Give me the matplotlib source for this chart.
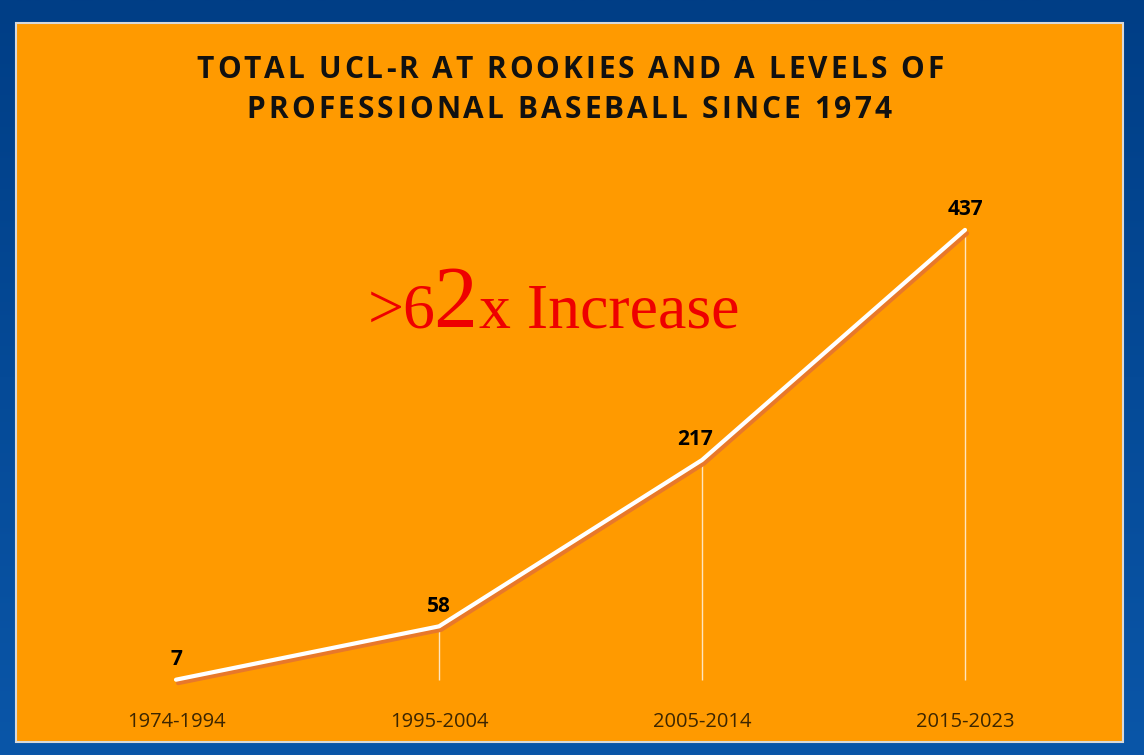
#!/usr/bin/env python3
"""Total UCL-R line chart on an orange slide panel."""

import matplotlib
matplotlib.use("Agg")
import matplotlib.pyplot as plt
import matplotlib.patheffects as pe
import numpy as np
from matplotlib.patches import Rectangle

periods = ["1974-1994", "1995-2004", "2005-2014", "2015-2023"]
ucl_r_totals = [7, 58, 217, 437]
title_lines = ["TOTAL UCL-R AT ROOKIES AND A LEVELS OF", "PROFESSIONAL BASEBALL SINCE 1974"]

W, H = 1144, 755
ORANGE = "#ff9a00"
SHADOW = "#e8782a"

fig = plt.figure(figsize=(W / 100, H / 100), dpi=100)
renderer = fig.canvas.get_renderer()


def fx(px):
    return px / W


def fy(py):
    return 1 - py / H


def tracked_text(cx, cy, s, target_w, **kw):
    """Draw s centred at pixel (cx, cy), letter-spaced to span target_w px."""
    widths = []
    for ch in s:
        t = fig.text(0, 0, ch, **kw)
        widths.append(t.get_window_extent(renderer).width)
        t.remove()
    track = (target_w - sum(widths)) / (len(s) - 1)
    x = cx - target_w / 2
    for ch, w in zip(s, widths):
        fig.text(fx(x), fy(cy), ch, ha="left", va="center", **kw)
        x += w + track


# blue slide background with slight vertical gradient
bg = fig.add_axes([0, 0, 1, 1], zorder=-10)
grad = np.linspace(0, 1, 256).reshape(-1, 1)
cmap = matplotlib.colors.LinearSegmentedColormap.from_list("bg", ["#003e86", "#0a56a8"])
bg.imshow(grad, aspect="auto", cmap=cmap, extent=[0, 1, 0, 1], origin="upper")
bg.add_patch(Rectangle((fx(16), fy(742)), fx(1123) - fx(16), fy(23) - fy(742),
                       facecolor=ORANGE, edgecolor="#d9d9d9", linewidth=1.5,
                       transform=bg.transAxes))
bg.set_axis_off()

# plot area
ax = fig.add_axes([fx(44.5), fy(687), fx(1096.5) - fx(44.5), fy(164) - fy(687)])
ax.patch.set_alpha(0)
x = np.arange(len(periods))
ax.set_xlim(-0.5, len(periods) - 0.5)
ax.set_ylim(0, 500)

ax.vlines(x, 7, ucl_r_totals, color="white", linewidth=1.0, alpha=0.75, zorder=2)
ax.plot(x, ucl_r_totals, color="white", linewidth=3.0, solid_capstyle="round",
        path_effects=[pe.SimpleLineShadow(offset=(1.5, -2.5), shadow_color=SHADOW, alpha=1.0),
                      pe.Normal()], zorder=3)

for xi, val in zip(x, ucl_r_totals):
    dx = -5 if val == 217 else 0
    ax.annotate(str(val), (xi, val), xytext=(dx, 7), textcoords="offset points",
                ha="center", va="bottom", fontsize=15, fontweight="bold",
                family="Open Sans", color="black")

ax.set_xticks(x)
ax.set_xticklabels(periods, fontsize=14.5, family="Open Sans", color="#3d2600")
ax.tick_params(axis="x", length=0, pad=18)
ax.set_yticks([])
for s in ax.spines.values():
    s.set_visible(False)

# title, letter-spaced
tkw = dict(fontsize=21.5, fontweight="bold", family="Open Sans", color="#111111")
tracked_text(570, 70, title_lines[0], 747, **tkw)
tracked_text(569, 110, title_lines[1], 645, **tkw)

# callout
red = "#ee0000"
fig.text(fx(368), fy(327), ">6", ha="left", va="baseline", fontsize=46,
         family="Liberation Serif", color=red)
fig.text(fx(433), fy(327), "2", ha="left", va="baseline", fontsize=63,
         family="Liberation Serif", color=red)
fig.text(fx(479), fy(327), "x Increase", ha="left", va="baseline", fontsize=46,
         family="Liberation Serif", color=red)

fig.savefig("out.png", dpi=100)
